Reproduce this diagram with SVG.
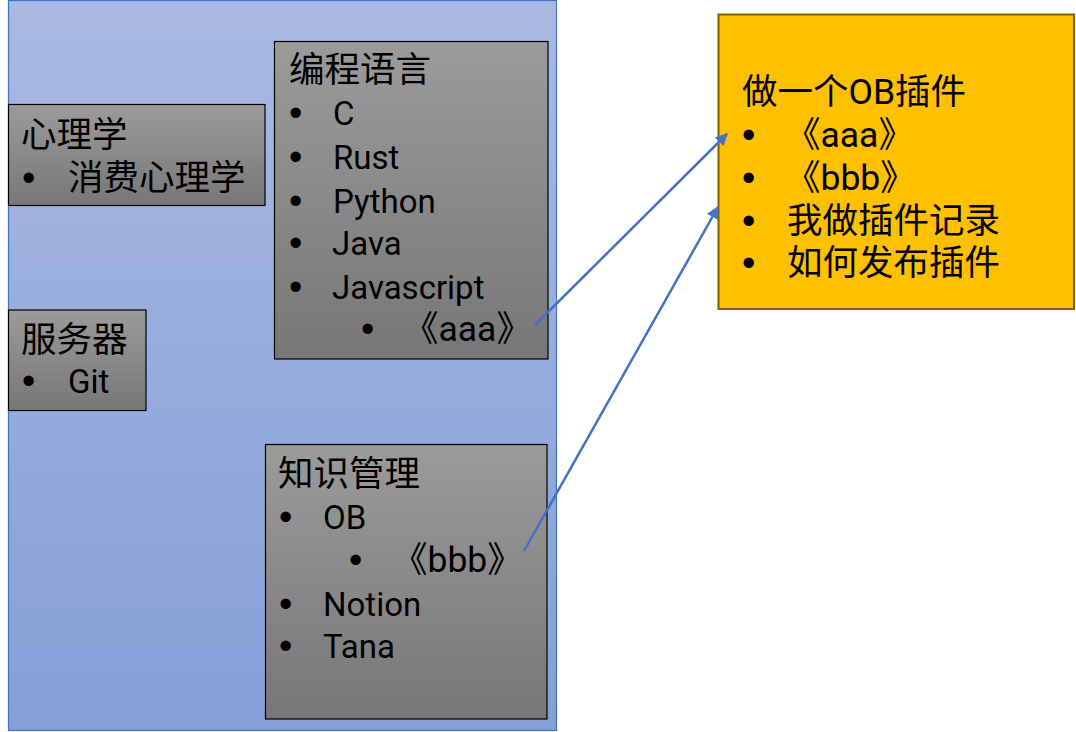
<svg xmlns="http://www.w3.org/2000/svg" width="1076" height="732" viewBox="0 0 1076 732">
<defs>
<linearGradient id="bg" x1="0" y1="0" x2="0" y2="1">
<stop offset="0" stop-color="#A9B9E2"/>
<stop offset="1" stop-color="#859FD7"/>
</linearGradient>
<linearGradient id="gray" x1="0" y1="0" x2="0" y2="1">
<stop offset="0" stop-color="#9B9B9B"/>
<stop offset="1" stop-color="#777777"/>
</linearGradient>
<marker id="arr" viewBox="0 0 10 10" refX="9" refY="5" markerWidth="5" markerHeight="5" orient="auto" markerUnits="strokeWidth">
<path d="M0,0 L10,5 L0,10 z" fill="#4472C4"/>
</marker>
</defs>
<style>
text{font-family:"Roboto","Noto Sans CJK SC",sans-serif;font-size:35.5px;fill:#000}
.l{font-size:33px}
.b{font-family:"Liberation Sans",sans-serif;font-size:38px}
.box{fill:url(#gray);stroke:#000;stroke-width:1.2}
.conn{stroke:#4472C4;stroke-width:2.5;fill:none;marker-end:url(#arr)}
</style>
<rect id="bgpanel" x="8.5" y="0.5" width="548" height="730" fill="url(#bg)" stroke="#4472C4" stroke-width="1.2"/>
<g id="psych">
<rect class="box" x="8.5" y="104.5" width="256.5" height="101"/>
<text><tspan x="21" y="147">心理学</tspan><tspan class="b" x="22" y="191">•</tspan><tspan x="68" y="190">消费心理学</tspan></text>
</g>
<g id="server">
<rect class="box" x="8.5" y="310" width="137.5" height="100.5"/>
<text><tspan x="21" y="352">服务器</tspan><tspan class="b" x="22" y="394">•</tspan><tspan class="l" x="68" y="393">Git</tspan></text>
</g>
<g id="lang">
<rect class="box" x="274.5" y="41.5" width="273.5" height="317.5"/>
<text><tspan x="289" y="82">编程语言</tspan><tspan class="b" x="289" y="126">•</tspan><tspan class="l" x="333" y="125">C</tspan><tspan class="b" x="289" y="170">•</tspan><tspan class="l" x="333" y="169">Rust</tspan><tspan class="b" x="289" y="214">•</tspan><tspan class="l" x="333" y="213">Python</tspan><tspan class="b" x="289" y="256">•</tspan><tspan class="l" x="332" y="255">Java</tspan><tspan class="b" x="289" y="300">•</tspan><tspan class="l" x="332" y="299">Javascript</tspan><tspan class="b" x="361" y="342">•</tspan><tspan x="403" y="341">《aaa》</tspan></text>
</g>
<g id="km">
<rect class="box" x="265.5" y="444.5" width="281.5" height="274.5"/>
<text><tspan x="278" y="486">知识管理</tspan><tspan class="b" x="279" y="530">•</tspan><tspan class="l" x="323" y="529">OB</tspan><tspan class="b" x="349" y="573">•</tspan><tspan x="392" y="572">《bbb》</tspan><tspan class="b" x="279" y="617">•</tspan><tspan class="l" x="323" y="616">Notion</tspan><tspan class="b" x="279" y="659">•</tspan><tspan class="l" x="323" y="658">Tana</tspan></text>
</g>
<g id="plugin">
<rect x="718.5" y="14.5" width="355.5" height="294.5" fill="#FFC000" stroke="#7F6000" stroke-width="2"/>
<text><tspan x="742" y="104">做一个OB插件</tspan><tspan class="b" x="742" y="148">•</tspan><tspan x="785" y="147">《aaa》</tspan><tspan class="b" x="742" y="191">•</tspan><tspan x="785" y="190">《bbb》</tspan><tspan class="b" x="742" y="234">•</tspan><tspan x="787" y="233">我做插件记录</tspan><tspan class="b" x="742" y="276">•</tspan><tspan x="787" y="275">如何发布插件</tspan></text>
</g>
<g id="connectors">
<line class="conn" x1="535" y1="325" x2="727" y2="134"/>
<line class="conn" x1="524" y1="551" x2="718" y2="207"/>
</g>
</svg>
